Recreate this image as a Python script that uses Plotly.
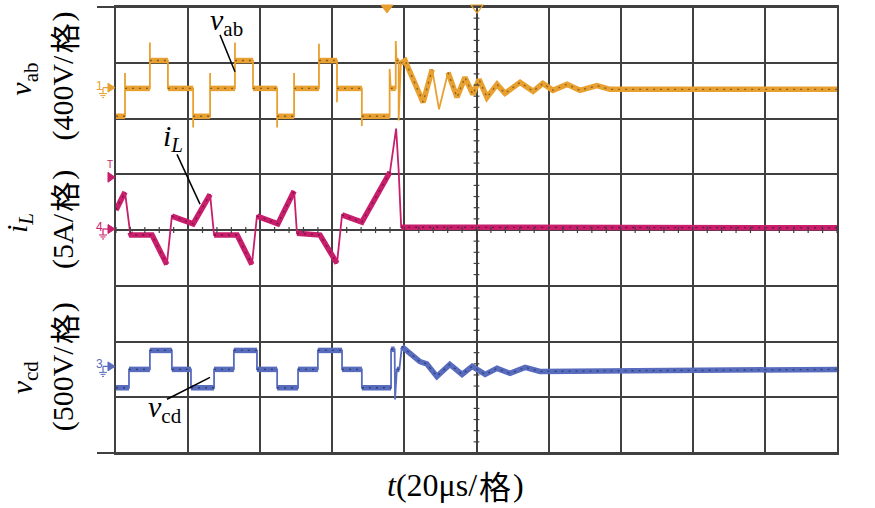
import plotly.graph_objects as go

# ---------------- data ----------------
# time in microseconds (20 us / div, 10 div)
vab_t = [0, 2.5, 2.5, 2.5, 9.4, 9.4, 9.4, 14.4, 14.4, 21.4, 21.4, 21.4, 26.1, 26.1, 26.1,
         33.0, 33.0, 33.0, 38.0, 38.0, 44.7, 44.7, 44.7, 49.4, 49.4, 49.4, 56.3, 56.3, 56.3,
         61.3, 61.3, 61.3, 68.2, 68.2, 68.2, 75.9, 75.9, 76.2, 77.6, 77.6, 77.8, 78.4, 78.4,
         79.0, 80.2, 81.0, 85.2, 87.7, 89.6, 92.1, 94.6, 96.8, 99.0, 100.7, 102.9, 105.7,
         107.9, 112.1, 115.7, 118.4, 121.2, 125.1, 128.7, 133.4, 137.0, 200.0]
vab_v = [-200, -200, 110, 0, 0, 330, 200, 200, 0, 0, -280, -200, -200, 110, 0,
         0, 330, 200, 200, 0, 0, -280, -200, -200, 110, 0, 0, 320, 200,
         200, -100, 0, 0, -270, -200, -200, 140, 0, 0, 340, 200, 200, -230,
         180, 200, 150, -100, 136, -150, 114, -64, 79, -43, 64, -64, 29,
         -36, 43, -21, 36, -14, 29, -14, 20, -7, -7]

il_t = [0, 2.5, 3.9, 4.2, 10.0, 14.1, 15.5, 21.4, 26.1, 27.2, 33.6, 37.7, 39.1, 44.9,
        49.4, 50.2, 56.6, 61.3, 62.7, 68.2, 76.0, 77.4, 77.7, 78.4, 79.1, 200.0]
il_a = [1.8, 3.4, -0.2, -0.45, -0.45, -3.1, 1.25, 0.55, 3.2, -0.45, -0.45, -3.1, 1.25, 0.55,
        3.5, -0.3, -0.45, -3.0, 1.35, 0.7, 5.2, 8.7, 9.1, 5.4, 0.25, 0.2]

vcd_t = [0, 3.6, 3.6, 9.4, 9.4, 15.5, 15.5, 20.8, 20.8, 27.2, 27.2, 32.7, 32.7, 39.1, 39.1,
         44.7, 44.7, 50.5, 50.5, 56.0, 56.0, 62.7, 62.7, 68.2, 68.2, 76.3, 76.3, 77.3, 77.4,
         77.9, 78.6, 79.3, 80.2, 84.3, 86.2, 89.0, 92.6, 96.0, 98.8, 102.4, 105.7, 109.3,
         113.5, 117.6, 200.0]
vcd_v = [-165, -165, 0, 0, 170, 170, 0, 0, -165, -165, 0, 0, 170, 170, 0,
         0, -165, -165, 0, 0, 170, 170, 0, 0, -165, -165, 180, 180, -270,
         0, 0, 205, 180, 70, 50, -63, 45, -45, 27, -45, 9, -36,
         18, -18, 0]

# channel settings: volts (amps) per division and ground offset in divisions
vab_scale, vab_offset = 400.0, 2.54
il_scale, il_offset = 5.0, 0.0
vcd_scale, vcd_offset = 500.0, -2.5

# label texts
vab_unit, il_unit, vcd_unit, t_unit = "400V", "5A", "500V", "20μs"
per_div = "格"

ORANGE = "#E8A030"
MAGENTA = "#C81E6C"
BLUE = "#586CBE"
GRID = "#404040"

W, H = 875, 508
L, R, T, B = 116, 837, 5, 453
PX_PER_US = (R - L) / 200.0
PX_PER_DIV = (B - T) / 8.0


def px(x):
    return (x - L) / (R - L)


def py(y):
    return (B - y) / (B - T)


fig = go.Figure()


def add_channel(t, v, scale, off, color, dark):
    y = [off + val / scale for val in v]
    # thin full trace (fast edges)
    fig.add_trace(go.Scatter(x=t, y=y, mode="lines",
                             line=dict(color=color, width=1.8),
                             hoverinfo="skip", showlegend=False))
    # thick band on the slow parts of the trace
    tx, ty = [], []
    for i in range(len(t) - 1):
        dx = (t[i + 1] - t[i]) * PX_PER_US
        dy = abs(y[i + 1] - y[i]) * PX_PER_DIV
        if dx > 0.5 and dy / dx < 4.0:
            if tx and tx[-1] == t[i] and ty[-1] == y[i]:
                tx.append(t[i + 1]); ty.append(y[i + 1])
            else:
                tx += [None, t[i], t[i + 1]]; ty += [None, y[i], y[i + 1]]
    fig.add_trace(go.Scatter(x=tx, y=ty, mode="lines", connectgaps=False,
                             line=dict(color=color, width=5.5),
                             hoverinfo="skip", showlegend=False))
    # dark noise speckle on the band
    fig.add_trace(go.Scatter(x=tx, y=ty, mode="lines", connectgaps=False, opacity=0.55,
                             line=dict(color=dark, width=1.3, dash="2px,5px"),
                             hoverinfo="skip", showlegend=False))


add_channel(vab_t, vab_v, vab_scale, vab_offset, ORANGE, "#3a2a10")
add_channel(il_t, il_a, il_scale, il_offset, MAGENTA, "#3a0a20")
add_channel(vcd_t, vcd_v, vcd_scale, vcd_offset, BLUE, "#101a40")

shapes = []
# minor ticks on centre lines
for i in range(41):
    yy = -4 + i * 0.2
    shapes.append(dict(type="line", xref="x", yref="y", x0=99.2, x1=100.8, y0=yy, y1=yy,
                       line=dict(color=GRID, width=1.2)))
for i in range(51):
    xx = i * 4
    shapes.append(dict(type="line", xref="x", yref="y", x0=xx, x1=xx, y0=-0.055, y1=0.055,
                       line=dict(color=GRID, width=1.2)))

# top and bottom frame lines extending to the left
for yline in (T, B):
    shapes.append(dict(type="line", xref="paper", yref="paper", x0=px(97), x1=1,
                       y0=py(yline), y1=py(yline), line=dict(color=GRID, width=1.8)))

# leader lines
for (x0, y0, x1, y1) in [(220, 33, 235, 70), (177, 153, 200, 203), (167, 399, 210, 377)]:
    shapes.append(dict(type="line", xref="paper", yref="paper", x0=px(x0), y0=py(y0),
                       x1=px(x1), y1=py(y1), line=dict(color="black", width=1.5)))


def path(points, close=True):
    s = "M " + " L ".join(f"{px(a):.5f},{py(b):.5f}" for a, b in points)
    return s + (" Z" if close else "")


def ground_marker(yc, color, label):
    shapes.append(dict(type="path", xref="paper", yref="paper",
                       path=path([(108, yc - 4.5), (115, yc), (108, yc + 4.5)]),
                       fillcolor=color, line=dict(color=color, width=1)))
    shapes.append(dict(type="line", xref="paper", yref="paper", x0=px(103), x1=px(108),
                       y0=py(yc), y1=py(yc), line=dict(color=color, width=1.2)))
    shapes.append(dict(type="line", xref="paper", yref="paper", x0=px(103), x1=px(103),
                       y0=py(yc), y1=py(yc + 6), line=dict(color=color, width=1.2)))
    for k, half in enumerate([4, 2.5, 1]):
        shapes.append(dict(type="line", xref="paper", yref="paper", x0=px(103 - half),
                           x1=px(103 + half), y0=py(yc + 6 + 2 * k), y1=py(yc + 6 + 2 * k),
                           line=dict(color=color, width=1)))
    return dict(x=px(99), y=py(yc - 2), xref="paper", yref="paper", text=label,
                xanchor="center", yanchor="middle", showarrow=False,
                font=dict(family="Liberation Sans", size=12, color=color))


annotations = []
annotations.append(ground_marker(86, ORANGE, "1"))
annotations.append(ground_marker(228, MAGENTA, "4"))
annotations.append(ground_marker(366, BLUE, "3"))

# trigger-level marker
shapes.append(dict(type="path", xref="paper", yref="paper",
                   path=path([(108, 171), (115, 176), (108, 181)]),
                   fillcolor=MAGENTA, line=dict(color=MAGENTA, width=1)))
annotations.append(dict(x=px(110), y=py(163), xref="paper", yref="paper", text="T",
                        xanchor="center", yanchor="middle", showarrow=False,
                        font=dict(family="Liberation Sans", size=10, color=MAGENTA)))

# top markers
shapes.append(dict(type="path", xref="paper", yref="paper",
                   path=path([(381, 3), (393, 3), (387, 11)]),
                   fillcolor=ORANGE, line=dict(color=ORANGE, width=1)))
shapes.append(dict(type="path", xref="paper", yref="paper",
                   path=path([(471, 3), (483, 3), (477, 11)]),
                   fillcolor="rgba(0,0,0,0)", line=dict(color=ORANGE, width=1.2)))

SERIF = "Liberation Serif"
CJK = "Noto Sans CJK SC"

# approximate Times advance widths (em units)
ADV = {"(": 0.333, ")": 0.333, "/": 0.278, "V": 0.722, "A": 0.722, "μ": 0.576,
       "s": 0.389, "t": 0.278}


def text_width(s, size):
    return sum(ADV.get(c, 0.5) for c in s) * size


def ann(x, y, text, size=30, angle=0, family=SERIF):
    annotations.append(dict(x=px(x), y=py(y), xref="paper", yref="paper", text=text,
                            xanchor="center", yanchor="middle",
                            showarrow=False, textangle=angle,
                            font=dict(family=family, size=size, color="black")))


def pieces_label(cx, cy, pieces, size, vertical):
    # pieces: list of (display_text, width_text, is_cjk)
    gap = 2
    widths = [size * 1.0 if cjk else text_width(wt, size) for _, wt, cjk in pieces]
    total = sum(widths) + gap * (len(pieces) - 1)
    pos = -total / 2
    for (txt, _, cjk), w in zip(pieces, widths):
        c = pos + w / 2
        fam = CJK if cjk else SERIF
        if vertical:
            ann(cx, cy - c, txt, size, -90, fam)
        else:
            ann(cx + c, cy, txt, size, 0, fam)
        pos += w + gap


def unit_pieces(value):
    return [("(" + value + "/", "(" + value + "/", False), (per_div, per_div, True),
            (")", ")", False)]


# channel labels on the left, rotated
ann(23, 78, "<i>v</i><sub>ab</sub>", 30, -90)
pieces_label(63, 74, unit_pieces(vab_unit), 30, True)
ann(19, 222, "<i>i</i><sub><i>L</i></sub>", 30, -90)
pieces_label(63, 218, unit_pieces(il_unit), 30, True)
ann(24, 377, "<i>v</i><sub>cd</sub>", 30, -90)
pieces_label(63, 366, unit_pieces(vcd_unit), 30, True)

# time-axis label
pieces_label(455, 485, [("<i>t</i>(" + t_unit + "/", "t(" + t_unit + "/", False),
                        (per_div, per_div, True), (")", ")", False)], 32, False)

# in-plot trace labels
ann(226, 20, "<i>v</i><sub>ab</sub>", 30)
ann(173, 137, "<i>i</i><sub><i>L</i></sub>", 30)
ann(165, 409, "<i>v</i><sub>cd</sub>", 30)

axis_common = dict(showticklabels=False, ticks="", zeroline=False, showgrid=True,
                   gridcolor=GRID, gridwidth=1.5, showline=True, linecolor=GRID,
                   linewidth=1.8, mirror=True, fixedrange=True)

fig.update_layout(
    width=W, height=H,
    margin=dict(l=L, r=W - R, t=T, b=H - B),
    paper_bgcolor="white", plot_bgcolor="white",
    xaxis=dict(range=[0, 200], dtick=20, tick0=0, **axis_common),
    yaxis=dict(range=[-4, 4], dtick=1, tick0=-4, **axis_common),
    shapes=shapes, annotations=annotations, showlegend=False,
)

fig.write_html("out.html", post_script="document.body.style.margin='0';",
               config={"displayModeBar": False})
